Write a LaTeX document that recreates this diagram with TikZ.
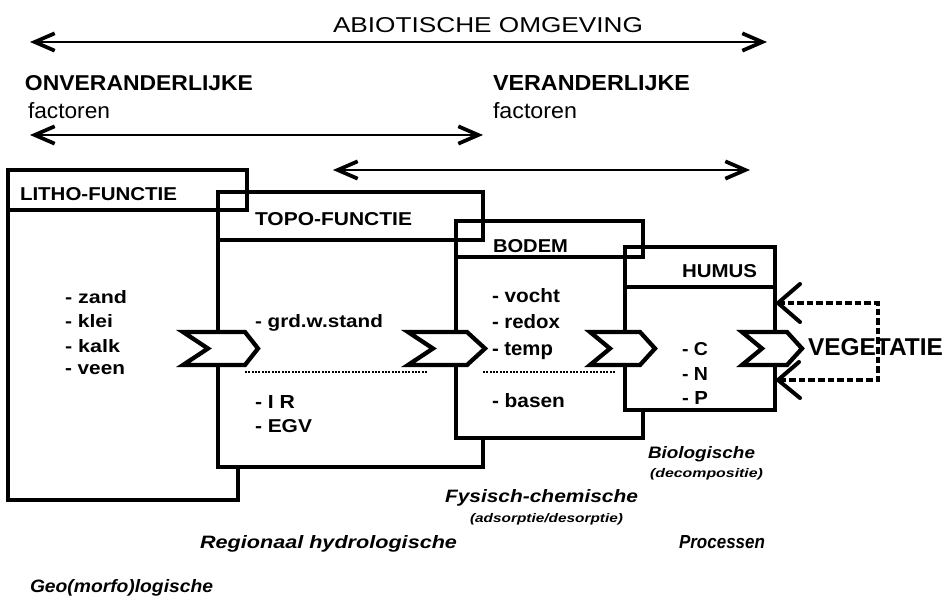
\documentclass[tikz,border=0pt]{standalone}
\usepackage{fontspec}
\setmainfont{Liberation Sans}
\usepackage{graphicx}
\usetikzlibrary{arrows.meta}
\newlength\pu \setlength\pu{0.75pt}
\newcommand\tx[3]{\resizebox{#1\pu}{#2\pu}{#3}}
\newcommand\boxnode[5]{\node[box, anchor=north west, minimum width=#4\pu, minimum height=#5\pu] (#1) at (#2,#3) {};}
\newcommand\hdrline[4]{\draw[hdr] (#1,#2) rectangle (#3,#4);}
\newcommand\chev[4]{\draw[chevst] (#1,332) -- ({#2-#4},332) -- (#2,348.5) -- ({#2-#4},365) -- (#1,365) -- ({#1+#3},348.5) -- cycle;}
\begin{document}
\begin{tikzpicture}[x=0.75pt,y=-0.75pt,
  box/.style={draw, line width=3.2pt, fill=white, inner sep=0pt, outer sep=0pt},
  hdr/.style={draw, line width=3.2pt},
  txt/.style={anchor=base west, inner sep=0pt, outer sep=0pt},
  chevst/.style={draw, line width=3.2pt, fill=white, line join=miter},
  sep/.style={line width=1.7pt, dash pattern=on 1.4pt off 1.1pt},
  loopline/.style={line width=3.5pt, dash pattern=on 5pt off 2.2pt},
  vhead/.style={line width=3pt, line cap=round},
  bigarrow/.style={line width=2.2pt, {Straight Barb[length=15pt,width=13pt,line width=2.8pt]}-{Straight Barb[length=15pt,width=13pt,line width=2.8pt]}}
]
\fill[white] (0,0) rectangle (946,603);
\useasboundingbox (0,0) rectangle (946,603);

% long arrows
\coordinate (a1l) at (30,42); \coordinate (a1r) at (767,42);
\coordinate (a2l) at (30,135); \coordinate (a2r) at (483,135);
\coordinate (a3l) at (333,170); \coordinate (a3r) at (750,170);
\draw[bigarrow] (a1l) -- (a1r);
\draw[bigarrow] (a2l) -- (a2r);
\draw[bigarrow] (a3l) -- (a3r);

% boxes (bodies and headers), later header outlines redrawn on top
\boxnode{lithobody}{8}{210}{230}{290}
\boxnode{lithohead}{8}{170}{239}{40}
\boxnode{topobody}{218}{240}{265}{227}
\boxnode{topohead}{218}{192}{265}{48}
\hdrline{8}{170}{247}{210}
\boxnode{bodembody}{456}{257}{187}{181}
\boxnode{bodemhead}{456}{221}{187}{36}
\hdrline{218}{192}{483}{240}
\boxnode{humusbody}{625}{287}{150}{123}
\boxnode{humushead}{625}{247}{150}{40}
\hdrline{456}{221}{643}{257}

% separators
\coordinate (s1a) at (245,372); \coordinate (s1b) at (427,372);
\coordinate (s2a) at (483,372); \coordinate (s2b) at (615,372);
\draw[sep] (s1a) -- (s1b);
\draw[sep] (s2a) -- (s2b);

% chevrons
\chev{183}{258}{25}{13}
\chev{408}{485}{25}{18}
\chev{590}{655}{20}{15}
\chev{742}{802}{20}{15}

% feedback loop from vegetatie
\coordinate (ft) at (778,303); \coordinate (fb) at (778,380);
\coordinate (fc1) at (878,303); \coordinate (fc2) at (878,380);
\draw[loopline] (ft) -- (fc1) -- (fc2) -- (fb);
\draw[vhead] (800,284) -- (ft) -- (800,322);
\draw[vhead] (799,362) -- (fb) -- (800,398);

% texts
\node[txt] (abio) at (333,32) {\tx{310}{15}{ABIOTISCHE OMGEVING}};
\node[txt] (onv) at (25,90) {\tx{228}{15}{\bfseries ONVERANDERLIJKE}};
\node[txt] (fac1) at (28,118) {\tx{82}{16}{factoren}};
\node[txt] (ver) at (493,90) {\tx{197}{15}{\bfseries VERANDERLIJKE}};
\node[txt] (fac2) at (493,118) {\tx{84}{16}{factoren}};

\node[txt] (lithoT) at (20,200) {\tx{157}{13}{\bfseries LITHO-FUNCTIE}};
\node[txt] (topoT) at (255,225) {\tx{157}{13}{\bfseries TOPO-FUNCTIE}};
\node[txt] (bodemT) at (493,252) {\tx{75}{13}{\bfseries BODEM}};
\node[txt] (humusT) at (682,277) {\tx{75}{13}{\bfseries HUMUS}};

\node[txt] (zand) at (65,303) {\tx{62}{13}{\bfseries - zand}};
\node[txt] (klei) at (65,327) {\tx{48}{13}{\bfseries - klei}};
\node[txt] (kalk) at (65,352) {\tx{55}{13}{\bfseries - kalk}};
\node[txt] (veen) at (65,374) {\tx{60}{10}{\bfseries - veen}};

\node[txt] (grd) at (255,327) {\tx{128}{13}{\bfseries - grd.w.stand}};
\node[txt] (ir) at (255,408) {\tx{40}{13}{\bfseries - I R}};
\node[txt] (egv) at (255,432) {\tx{57}{13}{\bfseries - EGV}};

\node[txt] (vocht) at (492,302) {\tx{68}{14}{\bfseries - vocht}};
\node[txt] (redox) at (492,328) {\tx{68}{14}{\bfseries - redox}};
\node[txt] (temp) at (492,355) {\tx{61}{13}{\bfseries - temp}};
\node[txt] (basen) at (492,407) {\tx{73}{14}{\bfseries - basen}};

\node[txt] (c) at (682,355) {\tx{26}{13}{\bfseries - C}};
\node[txt] (n) at (682,380) {\tx{26}{13}{\bfseries - N}};
\node[txt] (p) at (682,404) {\tx{26}{13}{\bfseries - P}};

\node[txt] (veg) at (808,355) {\tx{135}{17}{\bfseries VEGETATIE}};

\node[txt] (bio) at (648,458) {\tx{107}{12}{\bfseries\itshape Biologische}};
\node[txt] (decomp) at (650,477) {\tx{113}{9}{\bfseries\itshape (decompositie)}};
\node[txt] (fys) at (445,502) {\tx{193}{13}{\bfseries\itshape Fysisch-chemische}};
\node[txt] (ads) at (470,522) {\tx{153}{9}{\bfseries\itshape (adsorptie/desorptie)}};
\node[txt] (reg) at (200,548) {\tx{257}{13}{\bfseries\itshape Regionaal hydrologische}};
\node[txt] (proc) at (679,548) {\tx{86}{13}{\bfseries\itshape Processen}};
\node[txt] (geo) at (30,592) {\tx{183}{13}{\bfseries\itshape Geo(morfo)logische}};
\end{tikzpicture}
\end{document}
